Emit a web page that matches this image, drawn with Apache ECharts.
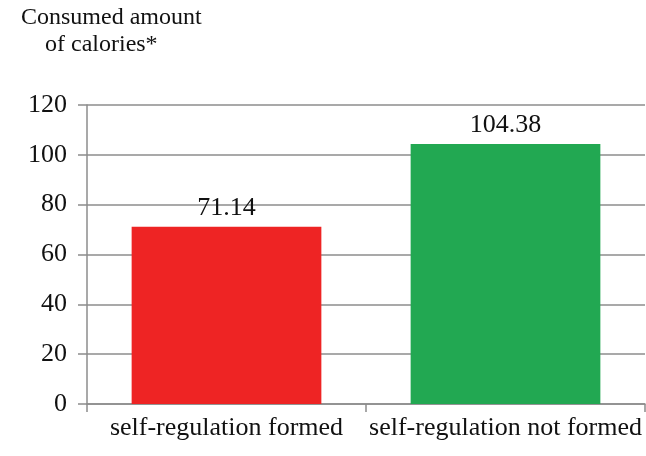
<!DOCTYPE html>
<html>
<head>
<meta charset="utf-8">
<script src="https://cdn.jsdelivr.net/npm/echarts@6/dist/echarts.min.js"></script>
<style>
  html, body { margin: 0; padding: 0; background: #fff; }
  #chart { width: 646px; height: 456px; }
</style>
</head>
<body>
<div id="chart"></div>
<script>
// Calories consumed by children grouped by self-regulation
const categories = ['self-regulation formed', 'self-regulation not formed'];
const values = [71.14, 104.38];
const barColors = ['#ee2424', '#22a852'];
const yTicks = { min: 0, max: 120, interval: 20 };
const titleLines = ['Consumed amount', 'of calories*'];

const serif = '"Liberation Serif", "Times New Roman", serif';
const gray = '#8c8c8c';
const fontSize = 26;

const chart = echarts.init(document.getElementById('chart'), null, { renderer: 'canvas' });
chart.setOption({
  animation: false,
  backgroundColor: '#ffffff',
  grid: { left: 87, right: 1, top: 105, bottom: 52, containLabel: false },
  graphic: [{
    type: 'text',
    left: 21,
    top: 6,
    style: { text: titleLines[0], font: '24px ' + serif, fill: '#111' }
  }, {
    type: 'text',
    left: 45,
    top: 33,
    style: { text: titleLines[1], font: '24px ' + serif, fill: '#111' }
  }],
  xAxis: {
    type: 'category',
    data: categories,
    boundaryGap: true,
    axisLine: { show: true, lineStyle: { color: gray, width: 1.5 } },
    axisTick: { show: true, length: 8, lineStyle: { color: gray, width: 1.5 } },
    axisLabel: { color: '#111', fontFamily: serif, fontSize: fontSize, margin: 11, interval: 0 },
    splitLine: { show: false }
  },
  yAxis: {
    type: 'value',
    min: yTicks.min,
    max: yTicks.max,
    interval: yTicks.interval,
    axisLine: { show: true, lineStyle: { color: gray, width: 1.5 } },
    axisTick: { show: true, length: 9, inside: false, lineStyle: { color: gray, width: 1.5 } },
    axisLabel: { color: '#111', fontFamily: serif, fontSize: fontSize, margin: 20 },
    splitLine: { show: true, lineStyle: { color: gray, width: 1.5 } }
  },
  series: [{
    type: 'bar',
    barWidth: '68%',
    data: values.map((v, i) => ({ value: v, itemStyle: { color: barColors[i] } })),
    label: {
      show: true,
      position: 'top',
      distance: 6,
      color: '#111',
      fontFamily: serif,
      fontSize: fontSize,
      formatter: p => p.value.toFixed(2)
    }
  }]
});
</script>
</body>
</html>
